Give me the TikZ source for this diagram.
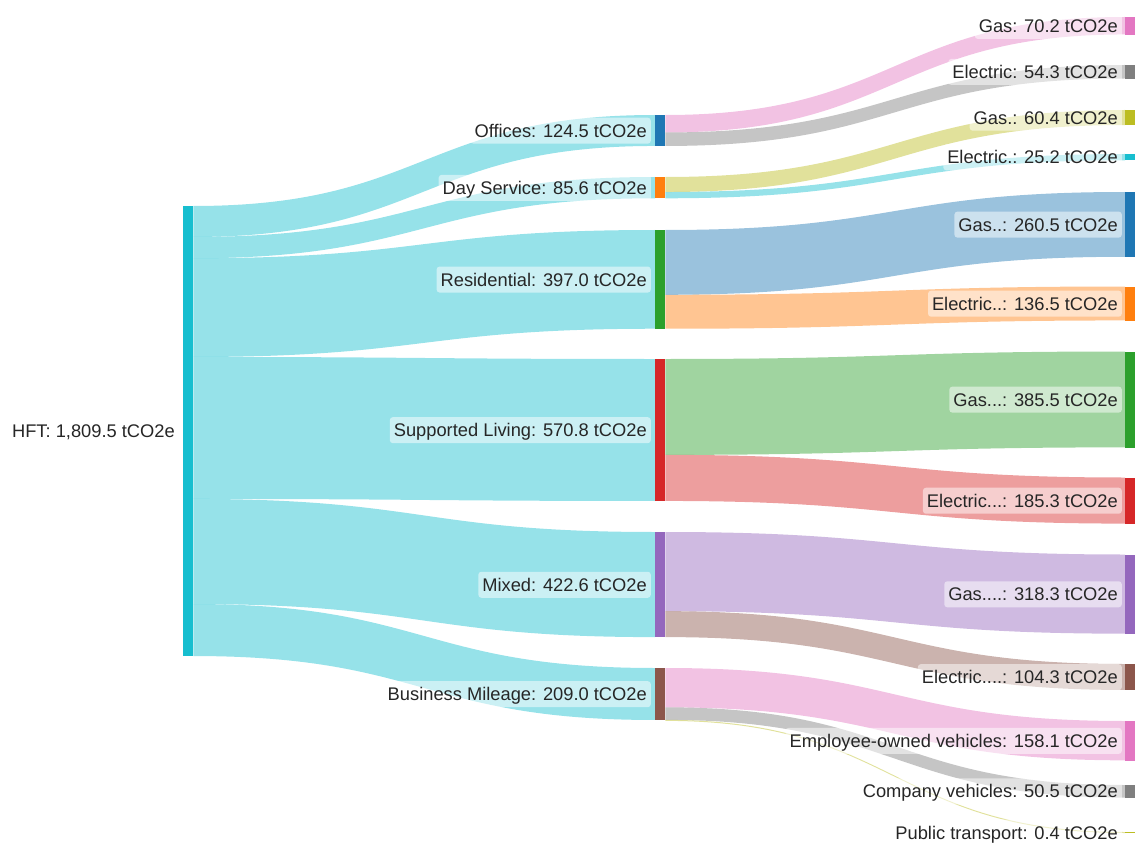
\documentclass[tikz,border=0pt]{standalone}
\usepackage{fontspec}
\setmainfont{Liberation Sans}
\usepackage{tikz}
\usetikzlibrary{positioning,calc,backgrounds}

\definecolor{cblue}{HTML}{1F77B4}
\definecolor{corange}{HTML}{FF7F0E}
\definecolor{cgreen}{HTML}{2CA02C}
\definecolor{cred}{HTML}{D62728}
\definecolor{cpurple}{HTML}{9467BD}
\definecolor{cbrown}{HTML}{8C564B}
\definecolor{cpink}{HTML}{E377C2}
\definecolor{cgray}{HTML}{7F7F7F}
\definecolor{colive}{HTML}{BCBD22}
\definecolor{ccyan}{HTML}{17BECF}

% flow band: source anchor, offset, target anchor, offset, width, colour
\newcommand{\flowband}[6]{%
  \fill[band, #6] ($(#1)+(0,#2)$) .. controls +(231,0) and +(-231,0) .. ($(#3)+(0,#4)$)
    -- ++(0,#5) .. controls +(-231,0) and +(231,0) .. ($(#1)+(0,{#2+#5})$) -- cycle;}

\begin{document}
\begin{tikzpicture}[x=1pt, y=-1pt, font=\fontsize{18.3}{22}\selectfont, text=black!85]
\tikzstyle{bar}=[rectangle, inner sep=0pt, minimum width=10pt, anchor=north west]
\tikzstyle{lbl}=[fill=white, fill opacity=.5, text opacity=1, rounded corners=3pt, inner xsep=4pt, inner ysep=3.5pt, text height=16pt, text depth=3pt]
\tikzstyle{band}=[fill opacity=.45]
\useasboundingbox (0,0) rectangle (1135,845);

% source
\node[bar, fill=ccyan, minimum height=450pt] (hft) at (183,206) {};
% sites
\node[bar, fill=cblue, minimum height=30.96pt] (off) at (655,115) {};
\node[bar, fill=corange, minimum height=21.29pt] (day) at (655,177) {};
\node[bar, fill=cgreen, minimum height=98.73pt] (res) at (655,230) {};
\node[bar, fill=cred, minimum height=141.96pt] (sl) at (655,359) {};
\node[bar, fill=cpurple, minimum height=105.1pt] (mix) at (655,532) {};
\node[bar, fill=cbrown, minimum height=51.98pt] (bm) at (655,668) {};
% sources of emissions
\node[bar, fill=cpink, minimum height=17.46pt] (gas1) at (1125,17) {};
\node[bar, fill=cgray, minimum height=13.5pt] (el1) at (1125,65) {};
\node[bar, fill=colive, minimum height=15.02pt] (gas2) at (1125,110) {};
\node[bar, fill=ccyan, minimum height=6.27pt] (el2) at (1125,154) {};
\node[bar, fill=cblue, minimum height=64.79pt] (gas3) at (1125,192) {};
\node[bar, fill=corange, minimum height=33.95pt] (el3) at (1125,286.5) {};
\node[bar, fill=cgreen, minimum height=95.87pt] (gas4) at (1125,351.5) {};
\node[bar, fill=cred, minimum height=46.08pt] (el4) at (1125,477.5) {};
\node[bar, fill=cpurple, minimum height=79.16pt] (gas5) at (1125,554.5) {};
\node[bar, fill=cbrown, minimum height=25.94pt] (el5) at (1125,664) {};
\node[bar, fill=cpink, minimum height=39.32pt] (emp) at (1125,721) {};
\node[bar, fill=cgray, minimum height=12.56pt] (comp) at (1125,785) {};
\node[bar, fill=colive, minimum height=1pt] (pub) at (1125,832) {};

% labels
\node[lbl, left=4pt of hft] (hftl) {HFT: 1,809.5 tCO2e};
\node[lbl, left=4pt of off] (offl) {Offices: 124.5 tCO2e};
\node[lbl, left=4pt of day] (dayl) {Day Service: 85.6 tCO2e};
\node[lbl, left=4pt of res] (resl) {Residential: 397.0 tCO2e};
\node[lbl, left=4pt of sl] (sll) {Supported Living: 570.8 tCO2e};
\node[lbl, left=4pt of mix] (mixl) {Mixed: 422.6 tCO2e};
\node[lbl, left=4pt of bm] (bml) {Business Mileage: 209.0 tCO2e};
\node[lbl, left=3pt of gas1] (gas1l) {Gas: 70.2 tCO2e};
\node[lbl, left=3pt of el1] (el1l) {Electric: 54.3 tCO2e};
\node[lbl, left=3pt of gas2] (gas2l) {Gas.: 60.4 tCO2e};
\node[lbl, left=3pt of el2] (el2l) {Electric.: 25.2 tCO2e};
\node[lbl, left=3pt of gas3] (gas3l) {Gas..: 260.5 tCO2e};
\node[lbl, left=3pt of el3] (el3l) {Electric..: 136.5 tCO2e};
\node[lbl, left=3pt of gas4] (gas4l) {Gas...: 385.5 tCO2e};
\node[lbl, left=3pt of el4] (el4l) {Electric...: 185.3 tCO2e};
\node[lbl, left=3pt of gas5] (gas5l) {Gas....: 318.3 tCO2e};
\node[lbl, left=3pt of el5] (el5l) {Electric....: 104.3 tCO2e};
\node[lbl, left=3pt of emp] (empl) {Employee-owned vehicles: 158.1 tCO2e};
\node[lbl, left=3pt of comp] (compl) {Company vehicles: 50.5 tCO2e};
\node[lbl, left=3pt of pub] (publ) {Public transport: 0.4 tCO2e};

\begin{scope}[on background layer]
\flowband{hft.north east}{0}{off.north west}{0}{30.96}{ccyan}
\flowband{hft.north east}{30.96}{day.north west}{0}{21.29}{ccyan}
\flowband{hft.north east}{52.25}{res.north west}{0}{98.73}{ccyan}
\flowband{hft.north east}{150.98}{sl.north west}{0}{141.96}{ccyan}
\flowband{hft.north east}{292.94}{mix.north west}{0}{105.1}{ccyan}
\flowband{hft.north east}{398.04}{bm.north west}{0}{51.98}{ccyan}
\flowband{off.north east}{0}{gas1.north west}{0}{17.46}{cpink}
\flowband{off.north east}{17.46}{el1.north west}{0}{13.5}{cgray}
\flowband{day.north east}{0}{gas2.north west}{0}{15.02}{colive}
\flowband{day.north east}{15.02}{el2.north west}{0}{6.27}{ccyan}
\flowband{res.north east}{0}{gas3.north west}{0}{64.79}{cblue}
\flowband{res.north east}{64.79}{el3.north west}{0}{33.95}{corange}
\flowband{sl.north east}{0}{gas4.north west}{0}{95.87}{cgreen}
\flowband{sl.north east}{95.87}{el4.north west}{0}{46.08}{cred}
\flowband{mix.north east}{0}{gas5.north west}{0}{79.16}{cpurple}
\flowband{mix.north east}{79.16}{el5.north west}{0}{25.94}{cbrown}
\flowband{bm.north east}{0}{emp.north west}{0}{39.32}{cpink}
\flowband{bm.north east}{39.32}{comp.north west}{0}{12.56}{cgray}
\flowband{bm.north east}{51.88}{pub.north west}{0}{1}{colive}
\end{scope}
\end{tikzpicture}
\end{document}
